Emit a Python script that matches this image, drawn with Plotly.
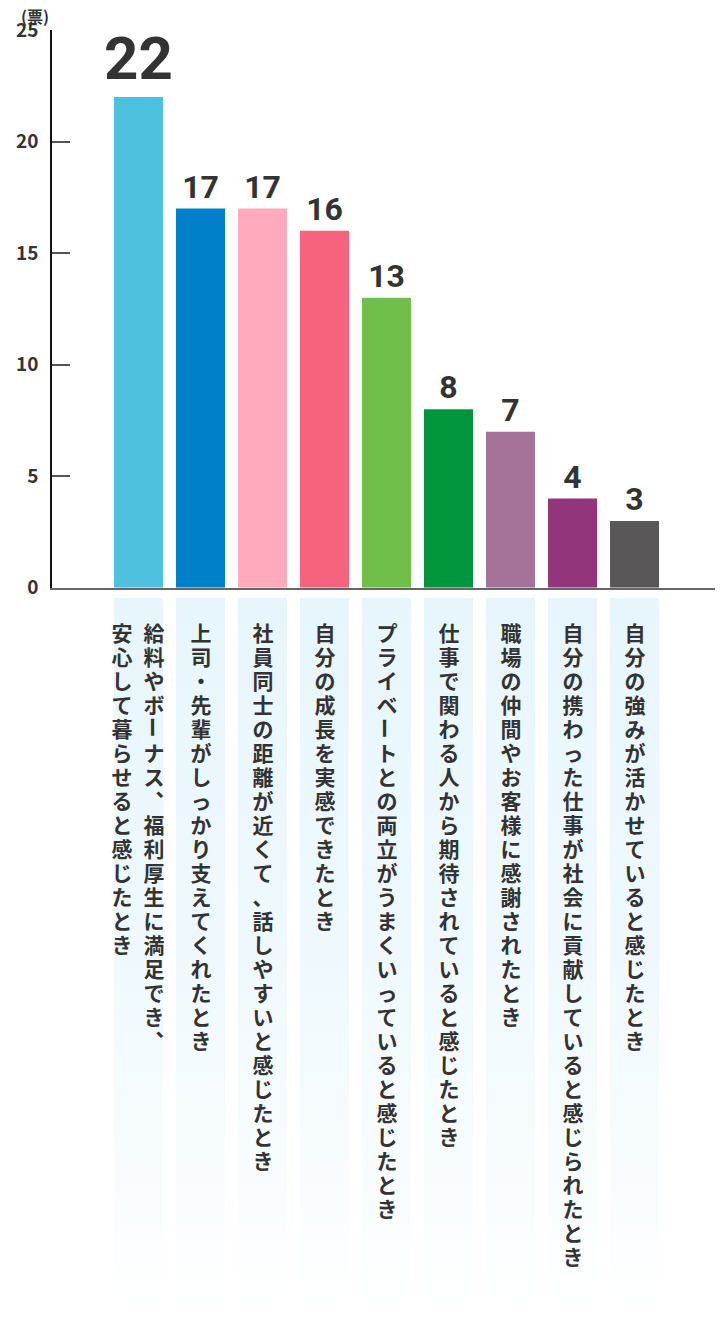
import plotly.graph_objects as go

# 得票数（票）
labels = [
    ["給料やボーナス、福利厚生に満足でき、", "安心して暮らせると感じたとき"],
    ["上司・先輩がしっかり支えてくれたとき"],
    ["社員同士の距離が近くて、話しやすいと感じたとき"],
    ["自分の成長を実感できたとき"],
    ["プライベートとの両立がうまくいっていると感じたとき"],
    ["仕事で関わる人から期待されていると感じたとき"],
    ["職場の仲間やお客様に感謝されたとき"],
    ["自分の携わった仕事が社会に貢献していると感じられたとき"],
    ["自分の強みが活かせていると感じたとき"],
]
votes = [22, 17, 17, 16, 13, 8, 7, 4, 3]
colors = ["#4fc1e0", "#0080c8", "#ffabbd", "#f5637c", "#6fbf4a",
          "#00963c", "#a57399", "#92357a", "#595757"]
y_ticks = [0, 5, 10, 15, 20, 25]

FONT = "Noto Sans CJK JP"
NUM_FONT = "Roboto"
TEXT = "#333333"
BAR_W = 49 / 62
PITCH = 24          # 縦書き1文字の送り(px)
COL_GAP = 32        # 2列ラベルの列間(px)
VERT_COMMA = {0}    # 読点を縦書き位置に置くラベル

x = list(range(len(votes)))

fig = go.Figure()

# ラベル背景（グラデーション）
bx, by = [], []
for i in x:
    bx += [i - BAR_W / 2, i + BAR_W / 2, i + BAR_W / 2, i - BAR_W / 2, i - BAR_W / 2, None]
    by += [0, 0, 1, 1, 0, None]
fig.add_trace(go.Scatter(
    x=bx, y=by, yaxis="y2", mode="lines", fill="toself",
    line=dict(width=0), hoverinfo="skip", showlegend=False,
    fillgradient=dict(type="vertical",
                      colorscale=[[0, "#ffffff"], [0.5, "#eff9fd"], [1, "#e7f6fc"]],
                      start=0, stop=1),
))

fig.add_trace(go.Bar(
    x=x, y=votes, width=BAR_W,
    marker=dict(color=colors, line=dict(width=0)),
    text=votes, textposition="outside", constraintext="none",
    textfont=dict(family=NUM_FONT, color=TEXT, size=[60] + [32] * (len(votes) - 1), weight="bold"),
    cliponaxis=False, showlegend=False,
    hovertext=[" ".join(l) for l in labels], hoverinfo="text+y",
))

# 縦書きラベル
for i, cols in enumerate(labels):
    n = len(cols)
    for c, line in enumerate(cols):
        xs = ((n - 1) / 2 - c) * COL_GAP
        for k, ch in enumerate(line):
            dx, dy, ang = 0, 0, 0
            if ch == "ー":
                ang = 90
            if ch == "、" and i in VERT_COMMA:
                dx, dy = 12, 13
            fig.add_annotation(
                x=i, y=1, xref="x", yref="y2",
                text=ch, showarrow=False, textangle=ang,
                width=PITCH, height=PITCH, borderpad=0, borderwidth=0,
                xanchor="center", yanchor="middle",
                xshift=xs + dx, yshift=-(34 + k * PITCH) + dy,
                font=dict(family=FONT, size=21, color=TEXT, weight="bold"),
            )

fig.add_annotation(
    x=0, y=1, xref="paper", yref="paper", text="(票)", showarrow=False,
    xanchor="right", yanchor="middle", xshift=-3, yshift=14,
    borderpad=0, borderwidth=0,
    font=dict(family=FONT, size=16, color=TEXT, weight="bold"),
)

fig.update_layout(
    width=715, height=1319,
    margin=dict(l=44, r=0, t=22, b=7),
    paper_bgcolor="white", plot_bgcolor="white",
    bargap=0.21,
    xaxis=dict(range=[-1.395, 9.427], showgrid=False, zeroline=False,
               showticklabels=False, ticks="", showline=True,
               linecolor="#666666", linewidth=2, anchor="y", fixedrange=True),
    yaxis=dict(domain=[0.5659, 1], range=[0, 25], tickvals=y_ticks,
               showgrid=False, zeroline=False, showline=True,
               linecolor="#111111", linewidth=1.5,
               ticks="inside", ticklen=18, tickcolor="#555555", tickwidth=1.5,
               ticklabelstandoff=8,
               tickfont=dict(family=FONT, size=19, color=TEXT, weight="bold"),
               fixedrange=True),
    yaxis2=dict(domain=[0, 0.5581], range=[0, 1], visible=False, fixedrange=True),
)

fig.write_html("out.html")
